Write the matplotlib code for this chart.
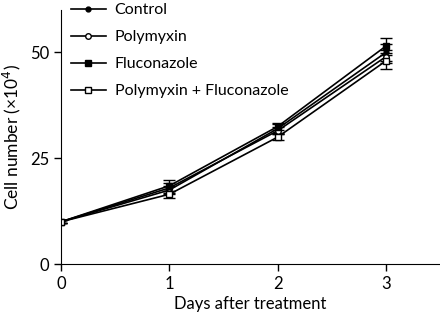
import numpy as np
import matplotlib.pyplot as plt

plt.rcParams['font.family'] = ['Lato', 'DejaVu Sans']

days = [0, 1, 2, 3]
labels = ["Control", "Polymyxin", "Fluconazole", "Polymyxin + Fluconazole"]
control = [10, 17.5, 32.0, 50.0]
polymyxin = [10, 18.0, 31.5, 49.0]
fluconazole = [10, 18.5, 32.5, 51.5]
combo = [10, 16.5, 30.0, 48.0]
err_control = [0.3, 1.0, 1.0, 2.0]
err_polymyxin = [0.3, 1.2, 0.8, 1.5]
err_fluconazole = [0.3, 1.3, 0.9, 2.0]
err_combo = [0.3, 0.8, 0.8, 1.8]

series = [control, polymyxin, fluconazole, combo]
errors = [err_control, err_polymyxin, err_fluconazole, err_combo]
markers = ["o", "o", "s", "s"]
faces = ["black", "white", "black", "white"]
msizes = [3.5, 4, 4.5, 5]

fig = plt.figure(figsize=(4.4, 3.17), dpi=100)
ax = fig.add_axes([0.139, 0.167, 0.861, 0.801])

for y, e, m, fc, ms, lab in zip(series, errors, markers, faces, msizes, labels):
    ax.errorbar(days, y, yerr=e, color="black", lw=1.2, marker=m, ms=ms,
                mfc=fc, mec="black", mew=1, capsize=4, capthick=1, elinewidth=1,
                label=lab)

ax.set_xlim(0, 3.5)
ax.set_ylim(0, 60)
ax.set_xticks([0, 1, 2, 3])
ax.set_yticks([0, 25, 50])
ax.spines["top"].set_visible(False)
ax.spines["right"].set_visible(False)
ax.tick_params(direction="out", length=5, width=1, labelsize=12)
ax.set_xlabel("Days after treatment", fontsize=12, labelpad=3)
ax.set_ylabel("Cell number (×10$^4$)", fontsize=12.5, labelpad=5)

handles, labs = ax.get_legend_handles_labels()
handles = [h[0] for h in handles]
ax.legend(handles, labs, loc="upper left", bbox_to_anchor=(0.0, 1.065), frameon=False,
          fontsize=11.5, handlelength=2.2, handletextpad=0.55, labelspacing=0.8,
          borderaxespad=0.2)

fig.savefig("out.png", dpi=100)
